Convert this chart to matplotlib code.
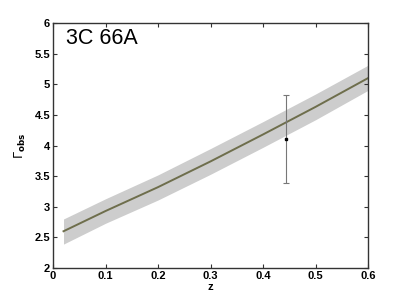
import numpy as np
import matplotlib
matplotlib.use("Agg")
import matplotlib.pyplot as plt

# model curve and its uncertainty band
z_model = [0.02, 0.1, 0.2, 0.3, 0.4, 0.5, 0.6]
gamma_model = [2.60, 2.93, 3.32, 3.74, 4.18, 4.63, 5.10]
gamma_lo = [2.39, 2.73, 3.11, 3.53, 3.97, 4.42, 4.90]
gamma_hi = [2.80, 3.13, 3.52, 3.95, 4.39, 4.84, 5.31]

# observed point
z_obs = [0.444]
gamma_obs = [4.10]
err_lo = [0.71]
err_hi = [0.72]

plt.rcParams['font.family'] = ['Liberation Sans', 'DejaVu Sans']

fig = plt.figure(figsize=(4.07, 3.02), dpi=100)
ax = fig.add_axes([53 / 407, 34 / 302, 315 / 407, 245 / 302])

ax.fill_between(z_model, gamma_lo, gamma_hi, color='#cdcdcd', lw=0)
ax.plot(z_model, gamma_model, color='#6e6e4c', lw=1.4)
ax.errorbar(z_obs, gamma_obs, yerr=[err_lo, err_hi], fmt='s', ms=2,
            color='black', ecolor='#777777', elinewidth=0.8, capsize=2, capthick=0.8)

ax.set_xlim(0, 0.6)
ax.set_ylim(2, 6)
ax.set_xticks([0, 0.1, 0.2, 0.3, 0.4, 0.5, 0.6])
ax.set_xticklabels(['0', '0.1', '0.2', '0.3', '0.4', '0.5', '0.6'])
ax.set_yticks([2, 2.5, 3, 3.5, 4, 4.5, 5, 5.5, 6])
ax.set_yticklabels(['2', '2.5', '3', '3.5', '4', '4.5', '5', '5.5', '6'])
ax.tick_params(direction='in', top=True, right=True, length=3, width=0.8,
               labelsize=8, pad=2, colors='#333333', labelcolor='black')
for lab in ax.get_xticklabels() + ax.get_yticklabels():
    lab.set_fontweight('bold')
for s in ax.spines.values():
    s.set_color('#333333')
    s.set_linewidth(1.0)

ax.set_xlabel('z', fontsize=8, fontweight='bold', labelpad=1)
ax.set_ylabel(r'$\Gamma_{\mathbf{obs}}$', fontsize=9, labelpad=5)
ax.text(0.025, 5.66, '3C 66A', fontsize=15.5, va='baseline')

fig.savefig('out.png', dpi=100)
